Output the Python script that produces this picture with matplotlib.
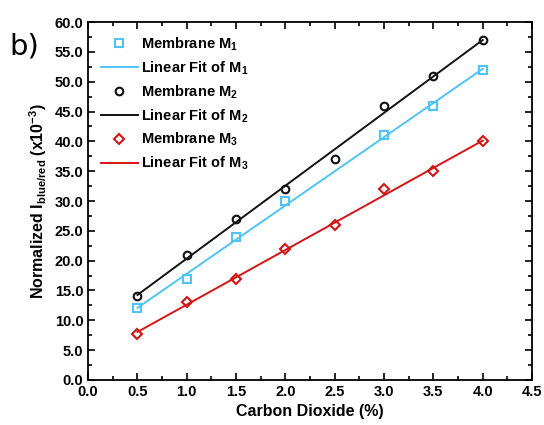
import numpy as np
import matplotlib
matplotlib.use("Agg")
import matplotlib.pyplot as plt
from matplotlib.ticker import MultipleLocator, FormatStrFormatter

plt.rcParams['font.family'] = ['Liberation Sans', 'DejaVu Sans']
plt.rcParams['mathtext.fontset'] = 'custom'
plt.rcParams['mathtext.rm'] = 'Liberation Sans:bold'
plt.rcParams['mathtext.it'] = 'Liberation Sans:bold'
plt.rcParams['mathtext.bf'] = 'Liberation Sans:bold'

# data
co2_m1 = [0.5, 1.0, 1.5, 2.0, 3.0, 3.5, 4.0]
ratio_m1 = [12.0, 17.0, 24.0, 30.0, 41.0, 46.0, 52.0]
co2_m2 = [0.5, 1.0, 1.5, 2.0, 2.5, 3.0, 3.5, 4.0]
ratio_m2 = [14.0, 21.0, 27.0, 32.0, 37.0, 46.0, 51.0, 57.0]
co2_m3 = [0.5, 1.0, 1.5, 2.0, 2.5, 3.0, 3.5, 4.0]
ratio_m3 = [7.7, 13.0, 17.0, 22.0, 26.0, 32.0, 35.0, 40.0]

c_blue = '#4fc3f7'
c_black = '#111111'
c_red = '#d41414'

fig = plt.figure(figsize=(5.44, 4.25), dpi=100)
ax = fig.add_axes([0.162, 0.106, 0.816, 0.842])

series = [
    (co2_m1, ratio_m1, c_blue, 's', '1'),
    (co2_m2, ratio_m2, c_black, 'o', '2'),
    (co2_m3, ratio_m3, c_red, 'D', '3'),
]
for x, y, col, mk, n in series:
    x = np.array(x)
    y = np.array(y)
    ms = 5 if mk == 'D' else 5.5
    ax.plot(x, y, linestyle='none', marker=mk, markersize=ms, markerfacecolor='none',
            markeredgecolor=col, markeredgewidth=1.5, label='Membrane M$_{' + n + '}$')
    k, b = np.polyfit(x, y, 1)
    xf = np.array([x.min(), x.max()])
    ax.plot(xf, k * xf + b, color=col, linewidth=1.4, label='Linear Fit of M$_{' + n + '}$')

ax.set_xlim(0, 4.5)
ax.set_ylim(0, 60)
ax.xaxis.set_major_locator(MultipleLocator(0.5))
ax.xaxis.set_minor_locator(MultipleLocator(0.25))
ax.yaxis.set_major_locator(MultipleLocator(5))
ax.yaxis.set_minor_locator(MultipleLocator(2.5))
ax.xaxis.set_major_formatter(FormatStrFormatter('%.1f'))
ax.yaxis.set_major_formatter(FormatStrFormatter('%.1f'))
ax.tick_params(which='both', direction='in', top=True, right=True, width=1.2)
ax.tick_params(which='major', length=5, labelsize=10.5)
ax.tick_params(which='minor', length=3)
for lab in ax.get_xticklabels() + ax.get_yticklabels():
    lab.set_fontweight('bold')
for sp in ax.spines.values():
    sp.set_linewidth(1.3)

ax.set_xlabel('Carbon Dioxide (%)', fontsize=11.5, fontweight='bold')
ax.set_ylabel('Normalized I$_{blue/red}$ (x10$^{-3}$)', fontsize=11.5, fontweight='bold')

leg = ax.legend(loc='upper left', frameon=False, prop={'weight': 'bold', 'size': 10.5},
                handlelength=2.5, labelspacing=0.45, borderaxespad=0.5, handletextpad=0.25)

fig.text(0.018, 0.872, 'b)', fontsize=21, family='DejaVu Sans')

fig.savefig('out.png', dpi=100)
